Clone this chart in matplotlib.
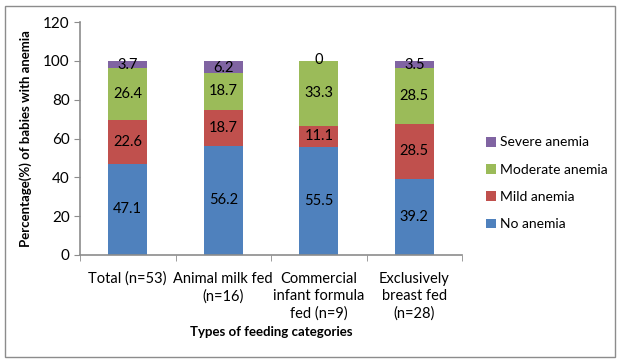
import matplotlib.pyplot as plt
from matplotlib.patches import Rectangle
import numpy as np

categories = ["Total (n=53)", "Animal milk fed\n(n=16)", "Commercial\ninfant formula\nfed (n=9)",
              "Exclusively\nbreast fed\n(n=28)"]
series_names = ["No anemia", "Mild anemia", "Moderate anemia", "Severe anemia"]
no_anemia = [47.1, 56.2, 55.5, 39.2]
mild_anemia = [22.6, 18.7, 11.1, 28.5]
moderate_anemia = [26.4, 18.7, 33.3, 28.5]
severe_anemia = [3.7, 6.2, 0, 3.5]
colors = ["#4F81BD", "#C0504D", "#9BBB59", "#8064A2"]

plt.rcParams["font.family"] = ["Lato", "DejaVu Sans"]

fig = plt.figure(figsize=(6.21, 3.62), dpi=100)
fig.patches.append(Rectangle((5 / 621, 1 - 357 / 362), 610 / 621, 351 / 362,
                             transform=fig.transFigure, fill=False,
                             edgecolor="#8c8c8c", linewidth=1.0))
ax = fig.add_axes([80 / 621, 1 - 255 / 362, 382 / 621, 233 / 362])

x = np.arange(len(categories))
bottom = np.zeros(len(categories))
handles = []
for name, vals, col in zip(series_names,
                           [no_anemia, mild_anemia, moderate_anemia, severe_anemia], colors):
    vals = np.array(vals, dtype=float)
    b = ax.bar(x, vals, width=0.41, bottom=bottom, color=col, label=name)
    handles.append(b)
    for xi, v, b0 in zip(x, vals, bottom):
        y = b0 + v / 2
        if name == "Severe anemia":
            y = b0 + max(v, 1.5) / 2 - 0.3
        ax.text(xi, y, f"{v:g}", ha="center", va="center", fontsize=10.5, color="black")
    bottom += vals

ax.set_xlim(-0.5, len(categories) - 0.5)
ax.set_ylim(0, 120)
ax.set_yticks(range(0, 121, 20))
ax.set_xticks(x)
ax.set_xticks(np.arange(-0.5, len(categories)), minor=True)
ax.tick_params(axis="x", which="major", length=0, pad=12)
ax.tick_params(axis="x", which="minor", length=4, color="#8c8c8c")
ax.tick_params(axis="y", length=4, color="#8c8c8c", labelsize=11)
ax.set_xticklabels(categories, fontsize=10.5, va="top", ha="center",
                   multialignment="center", linespacing=1.3)
for s in ["top", "right"]:
    ax.spines[s].set_visible(False)
for s in ["left", "bottom"]:
    ax.spines[s].set_color("#8c8c8c")
    ax.spines[s].set_linewidth(1.2)

ax.set_ylabel("Percentage(%) of babies with anemia", fontsize=9.5, fontweight="bold", labelpad=8)
ax.set_xlabel("Types of feeding categories", fontsize=9.5, fontweight="bold", labelpad=4)

fig.legend(handles[::-1], series_names[::-1], loc="upper left",
           bbox_to_anchor=(474 / 621, 1 - 124 / 362), frameon=False, fontsize=10,
           handlelength=0.7, handleheight=0.7, handletextpad=0.3, labelspacing=1.1)

fig.savefig("out.png", dpi=100)
